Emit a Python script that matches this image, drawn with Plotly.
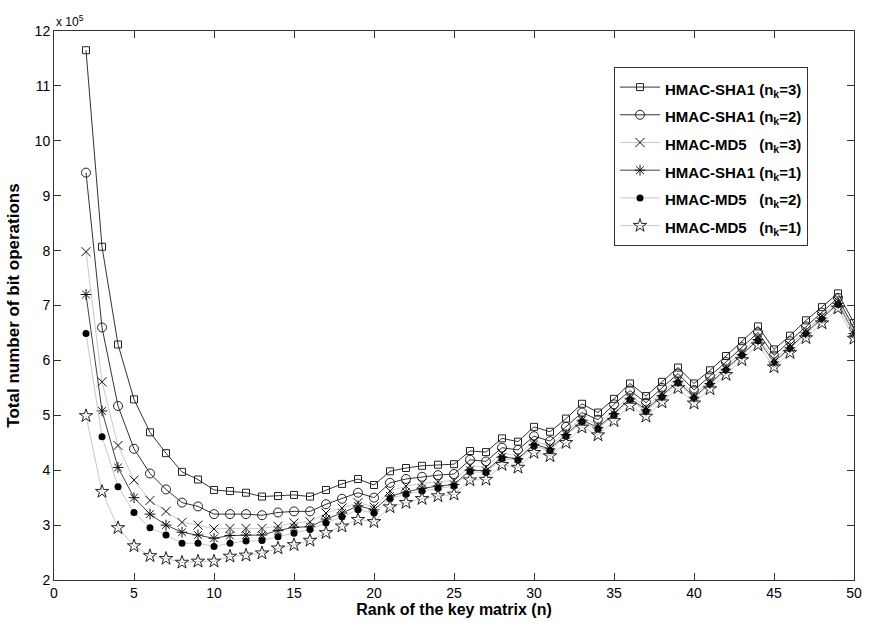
import plotly.graph_objects as go

n = list(range(2, 51))

sha1_k3 = [11.65, 8.07, 6.29, 5.29, 4.69, 4.31, 3.97, 3.83, 3.64, 3.62, 3.59, 3.52, 3.53, 3.55,
           3.52, 3.64, 3.75, 3.84, 3.73, 3.98, 4.04, 4.08, 4.10, 4.11,
           4.35, 4.33, 4.58, 4.52, 4.79, 4.70, 4.94, 5.21, 5.05, 5.30,
           5.58, 5.35, 5.61, 5.87, 5.58, 5.82, 6.08, 6.35, 6.62, 6.20, 6.45, 6.73, 6.97, 7.22, 6.68]
sha1_k2 = [9.42, 6.60, 5.17, 4.39, 3.94, 3.65, 3.41, 3.34, 3.20, 3.20, 3.20, 3.18, 3.23, 3.25,
           3.25, 3.38, 3.48, 3.59, 3.50, 3.77, 3.84, 3.88, 3.91, 3.93,
           4.19, 4.16, 4.41, 4.37, 4.62, 4.53, 4.79, 5.05, 4.92, 5.20,
           5.45, 5.23, 5.50, 5.76, 5.46, 5.71, 5.97, 6.24, 6.51, 6.09, 6.35, 6.62, 6.87, 7.14, 6.58]
md5_k3 = [7.98, 5.61, 4.45, 3.82, 3.45, 3.25, 3.05, 3.00, 2.93, 2.94, 2.94, 2.94, 2.98, 3.04,
          3.06, 3.22, 3.31, 3.41, 3.33, 3.62, 3.71, 3.76, 3.79, 3.81,
          4.08, 4.06, 4.31, 4.27, 4.53, 4.44, 4.70, 4.96, 4.83, 5.09,
          5.36, 5.15, 5.41, 5.67, 5.38, 5.63, 5.89, 6.16, 6.43, 6.02, 6.28, 6.55, 6.81, 7.08, 6.53]
sha1_k1 = [7.20, 5.08, 4.05, 3.50, 3.20, 3.00, 2.87, 2.82, 2.76, 2.81, 2.82, 2.82, 2.90, 2.96,
           2.97, 3.11, 3.22, 3.35, 3.28, 3.53, 3.60, 3.67, 3.71, 3.74,
           4.00, 3.99, 4.24, 4.21, 4.47, 4.39, 4.65, 4.91, 4.78, 5.03,
           5.31, 5.10, 5.36, 5.62, 5.33, 5.58, 5.84, 6.11, 6.38, 5.97, 6.23, 6.50, 6.77, 7.04, 6.49]
md5_k2 = [6.49, 4.61, 3.70, 3.23, 2.95, 2.82, 2.67, 2.67, 2.61, 2.67, 2.71, 2.72, 2.79, 2.85,
          2.92, 3.04, 3.15, 3.28, 3.22, 3.48, 3.56, 3.62, 3.67, 3.71,
          3.97, 3.96, 4.21, 4.18, 4.44, 4.36, 4.62, 4.88, 4.75, 5.00,
          5.28, 5.07, 5.33, 5.59, 5.31, 5.56, 5.82, 6.09, 6.36, 5.95, 6.21, 6.48, 6.75, 7.02, 6.47]
md5_k1 = [4.99, 3.61, 2.95, 2.62, 2.44, 2.39, 2.32, 2.34, 2.34, 2.43, 2.45, 2.49, 2.58, 2.64,
          2.72, 2.86, 2.98, 3.10, 3.06, 3.33, 3.41, 3.48, 3.53, 3.56,
          3.82, 3.83, 4.10, 4.05, 4.32, 4.26, 4.50, 4.78, 4.64, 4.90,
          5.18, 4.98, 5.24, 5.50, 5.22, 5.48, 5.74, 6.01, 6.28, 5.88, 6.14, 6.41, 6.68, 6.95, 6.40]

x_ticks = list(range(0, 51, 5))
y_ticks = list(range(2, 13))

sp = "\u00a0"
labels = [
    "HMAC-SHA1 (n<sub>k</sub>=3)",
    "HMAC-SHA1 (n<sub>k</sub>=2)",
    "HMAC-MD5" + sp * 3 + "(n<sub>k</sub>=3)",
    "HMAC-SHA1 (n<sub>k</sub>=1)",
    "HMAC-MD5" + sp * 3 + "(n<sub>k</sub>=2)",
    "HMAC-MD5" + sp * 3 + "(n<sub>k</sub>=1)",
]
names = ['<span style="font-size:15px">' + s + "</span>" for s in labels]
series = [sha1_k3, sha1_k2, md5_k3, sha1_k1, md5_k2, md5_k1]
dark = "#333333"
light = "#c8c8c8"
styles = [
    dict(line=dict(color=dark, width=1), marker=dict(symbol="square-open", size=7, color="#222", line=dict(width=1))),
    dict(line=dict(color=dark, width=1), marker=dict(symbol="circle-open", size=9, color="#222", line=dict(width=1))),
    dict(line=dict(color=light, width=1), marker=dict(symbol="x-thin-open", size=9, color="#111", line=dict(width=1, color="#111"))),
    dict(line=dict(color="#444444", width=1), marker=dict(symbol="asterisk-open", size=9, color="#111", line=dict(width=1, color="#111"))),
    dict(line=dict(color=light, width=1), marker=dict(symbol="circle", size=7, color="#000")),
    dict(line=dict(color=light, width=1), marker=dict(symbol="star-open", size=10, color="#222", line=dict(width=1))),
]

fig = go.Figure()
for name, vals, st in zip(names, series, styles):
    fig.add_trace(go.Scatter(x=n, y=vals, mode="lines+markers", name=name, **st))

font = "Liberation Sans, Arial, Helvetica, sans-serif"
fig.update_layout(
    width=870, height=622,
    margin=dict(l=54, r=8, t=31, b=41),
    paper_bgcolor="white", plot_bgcolor="white",
    font=dict(family=font, size=14, color="#000"),
    showlegend=True,
    legend=dict(
        x=0.700, y=0.934, xanchor="left", yanchor="top",
        bordercolor="#333", borderwidth=1, bgcolor="white",
        font=dict(family=font, size=19, color="#000", weight="bold"),
        itemwidth=40,
    ),
    xaxis=dict(
        range=[0, 50], tickvals=x_ticks,
        showgrid=False, zeroline=False,
        showline=True, linecolor="#333", linewidth=1, mirror="ticks",
        ticks="inside", ticklen=7, tickcolor="#333",
        tickfont=dict(size=14),
        title=dict(text="<b>Rank of the key matrix (n)</b>", font=dict(size=16), standoff=2),
    ),
    yaxis=dict(
        range=[2, 12], tickvals=y_ticks,
        showgrid=False, zeroline=False,
        showline=True, linecolor="#333", linewidth=1, mirror="ticks",
        ticks="inside", ticklen=7, tickcolor="#333",
        tickfont=dict(size=14),
        title=dict(text="<b>Total number of bit operations</b>", font=dict(size=17), standoff=10),
    ),
    annotations=[dict(
        text="x 10<sup>5</sup>", xref="paper", yref="paper", x=0.0, y=1.0,
        xanchor="left", yanchor="bottom", showarrow=False,
        font=dict(size=12),
    )],
)

fig.write_html("out.html", config={"displayModeBar": False},
               post_script="document.body.style.margin='0';")
